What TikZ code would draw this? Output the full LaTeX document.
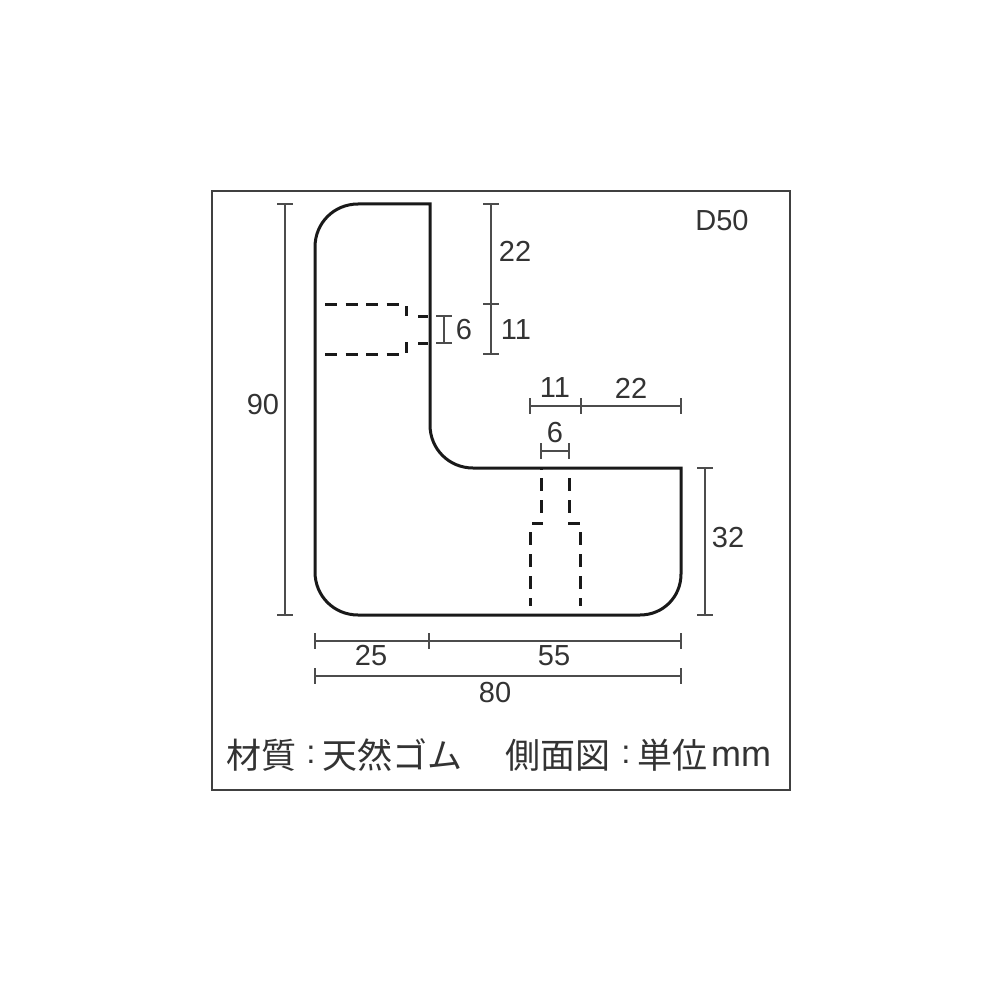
\documentclass[tikz,border=0pt]{standalone}
\usepackage{fontspec}
\setmainfont{Liberation Sans}
\newfontfamily\cjk{Noto Sans CJK JP}[Scale=1]
\definecolor{dimc}{gray}{0.3}
\definecolor{txtc}{gray}{0.2}
\tikzset{
 outline/.style={line width=3pt,black!90,line join=miter},
 hid/.style={line width=3pt,black!90,dash pattern=on 12pt off 8.5pt},
 hidv/.style={line width=3pt,black!90,dash pattern=on 13pt off 9pt},
 dimline/.style={line width=1.9pt,dimc},
 lab/.style={font=\fontsize{29}{29}\selectfont,text=txtc,inner sep=0pt},
 jp/.style={font=\cjk\fontsize{35}{35}\selectfont,text=txtc,inner sep=0pt,anchor=west},
 colonlab/.style={font=\fontsize{33}{33}\selectfont,text=txtc,inner sep=0pt},
 frame/.style={line width=2pt,black!75}
}
\begin{document}
\begin{tikzpicture}[x=1pt,y=-1pt]
\useasboundingbox (0,0) rectangle (1000,1000);
\fill[white] (0,0) rectangle (1000,1000);
\draw[frame] (212,191) rectangle (790,790);
% part
\draw[outline] (430,204) -- (358,204) .. controls (334,204) and (315,223) .. (315,247)
 -- (315,572) .. controls (315,596) and (334,615) .. (358,615)
 -- (640,615) .. controls (663,615) and (681,597) .. (681,574)
 -- (681,468) -- (473,468) .. controls (449,468) and (430,449) .. (430,425) -- cycle;
% hidden left
\draw[hid] (325,304) -- (405,304);
\draw[hid] (325,354) -- (405,354);
\draw[outline,line width=2.6pt] (406.5,306) -- (406.5,316);
\draw[outline,line width=2.6pt] (406.5,342) -- (406.5,353);
\draw[outline] (418,316) -- (428,316);
\draw[outline] (418,343) -- (428,343);
% hidden bottom
\draw[outline] (541.5,468) -- (541.5,470);
\draw[hidv] (541.5,478) -- (541.5,514);
\draw[hidv] (569,478) -- (569,514);
\draw[outline] (532,523) -- (543,523);
\draw[outline] (568,523) -- (580,523);
\draw[hidv] (530.5,532) -- (530.5,606);
\draw[hidv] (580.5,532) -- (580.5,606);
% 90
\coordinate (d90a) at (285,204); \coordinate (d90b) at (285,615);
\draw[dimline] (d90a) -- (d90b);
\draw[dimline] (277,204) -- (293,204); \draw[dimline] (277,615) -- (293,615);
\node[lab] (t90) at (263,405) {90};
% 22 / 11 right
\coordinate (v1) at (491,204); \coordinate (v2) at (491,304); \coordinate (v3) at (491,354);
\draw[dimline] (v1) -- (v3);
\draw[dimline] (483,204) -- (499,204); \draw[dimline] (483,304) -- (499,304); \draw[dimline] (483,354) -- (499,354);
\node[lab] (t22a) at (515,251) {22};
\node[lab] (t11a) at (516,330) {11};
% 6 left
\coordinate (s1) at (444,316); \coordinate (s2) at (444,343);
\draw[dimline] (s1) -- (s2);
\draw[dimline] (436,316) -- (452,316); \draw[dimline] (436,343) -- (452,343);
\node[lab] (t6a) at (464,330) {6};
% 11 22 top
\coordinate (h1) at (530,406); \coordinate (h2) at (581,406); \coordinate (h3) at (681,406);
\draw[dimline] (h1) -- (h3);
\draw[dimline] (530,398) -- (530,414); \draw[dimline] (581,398) -- (581,414); \draw[dimline] (681,398) -- (681,414);
\node[lab] (t11b) at (555,388) {11};
\node[lab] (t22b) at (631,388) {22};
% 6 bottom
\coordinate (p1) at (541,451); \coordinate (p2) at (569,451);
\draw[dimline] (p1) -- (p2);
\draw[dimline] (541,443) -- (541,459); \draw[dimline] (569,443) -- (569,459);
\node[lab] (t6b) at (555,433) {6};
% 32
\coordinate (q1) at (705,468); \coordinate (q2) at (705,615);
\draw[dimline] (q1) -- (q2);
\draw[dimline] (697,468) -- (713,468); \draw[dimline] (697,615) -- (713,615);
\node[lab] (t32) at (728,538) {32};
% 25 55
\coordinate (r1) at (315,641); \coordinate (r2) at (429,641); \coordinate (r3) at (681,641);
\draw[dimline] (r1) -- (r3);
\draw[dimline] (315,633) -- (315,649); \draw[dimline] (429,633) -- (429,649); \draw[dimline] (681,633) -- (681,649);
\node[lab] (t25) at (371,656) {25};
\node[lab] (t55) at (554,656) {55};
% 80
\coordinate (u1) at (315,676); \coordinate (u2) at (681,676);
\draw[dimline] (u1) -- (u2);
\draw[dimline] (315,668) -- (315,684); \draw[dimline] (681,668) -- (681,684);
\node[lab] (t80) at (495,693) {80};
\node[lab] (tD) at (722,221) {D50};
% bottom text
\node[jp] (j1) at (226,755) {材質};
\node[colonlab] (c1) at (311,755) {:};
\node[jp] (j2) at (322,755) {天然ゴム};
\node[jp] (j3) at (505,755) {側面図};
\node[colonlab] (c2) at (626,755) {:};
\node[jp] (j4) at (637,755) {単位};
\node[lab,anchor=west,font=\fontsize{36}{36}\selectfont] (j5) at (711,757) {mm};
\end{tikzpicture}
\end{document}
